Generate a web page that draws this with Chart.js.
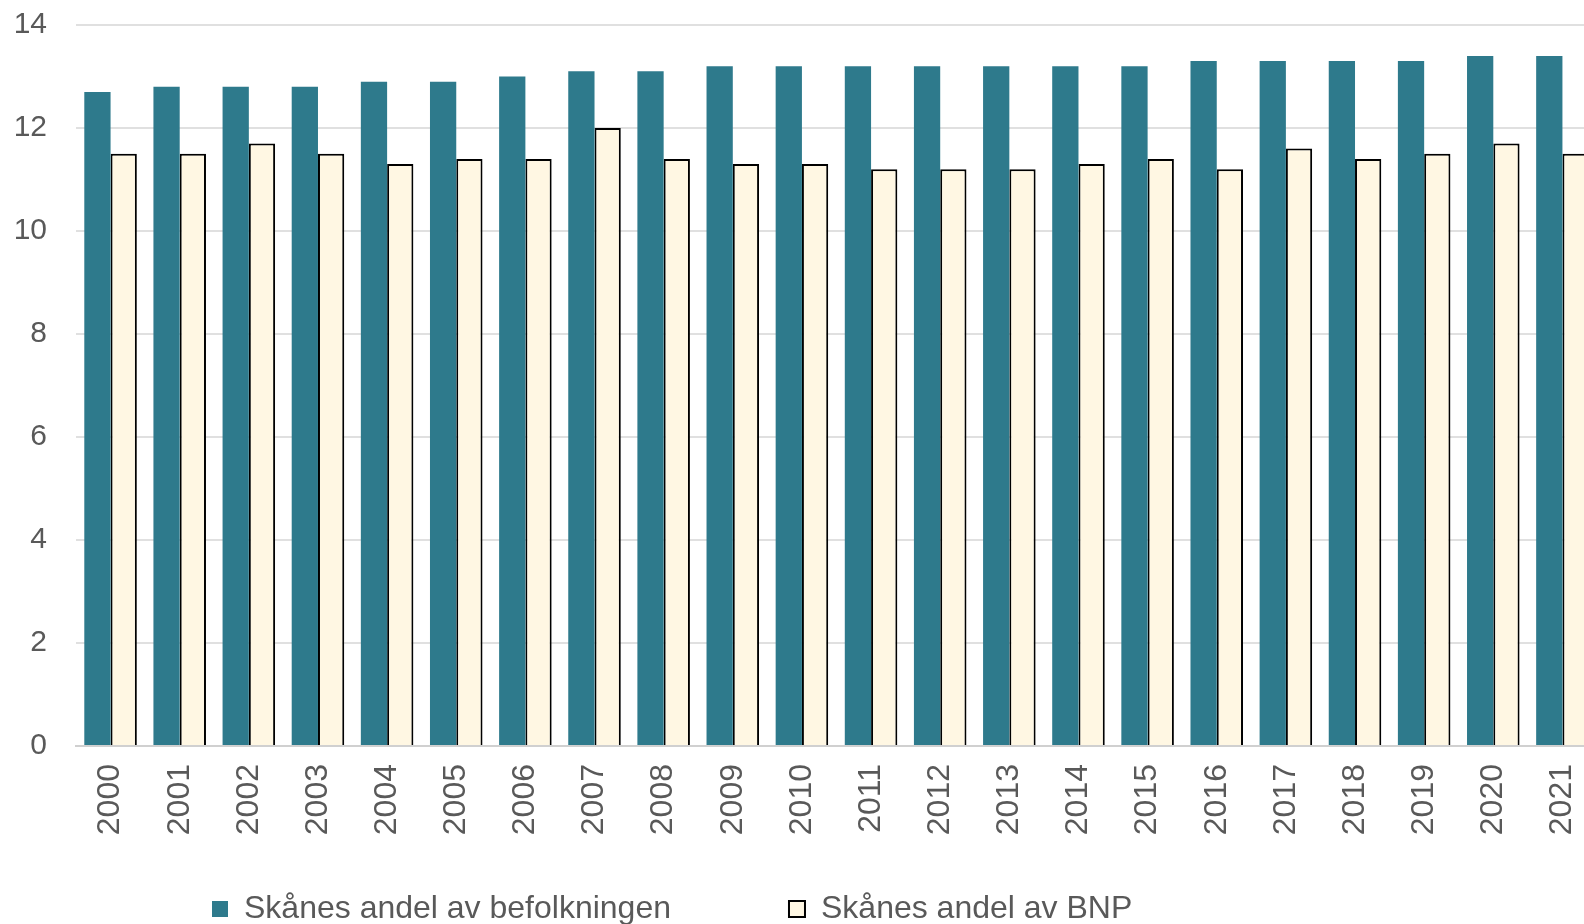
<!DOCTYPE html>
<html>
<head>
<meta charset="utf-8">
<script src="https://cdn.jsdelivr.net/npm/chart.js@4.4.1/dist/chart.umd.min.js"></script>
<style>
  html, body { margin: 0; padding: 0; background: #ffffff; overflow: hidden; }
  #wrap { position: relative; width: 1597px; height: 924px; }
</style>
</head>
<body>
<div id="wrap"><canvas id="c"></canvas></div>
<script>
const years = ['2000','2001','2002','2003','2004','2005','2006','2007','2008','2009','2010',
               '2011','2012','2013','2014','2015','2016','2017','2018','2019','2020','2021'];
const befolkning = [12.7,12.8,12.8,12.8,12.9,12.9,13.0,13.1,13.1,13.2,13.2,
                    13.2,13.2,13.2,13.2,13.2,13.3,13.3,13.3,13.3,13.4,13.4];
const bnp = [11.5,11.5,11.7,11.5,11.3,11.4,11.4,12.0,11.4,11.3,11.3,
             11.2,11.2,11.2,11.3,11.4,11.2,11.6,11.4,11.5,11.7,11.5];
const seriesNames = ['Skånes andel av befolkningen', 'Skånes andel av BNP'];
const yTicks = [0, 2, 4, 6, 8, 10, 12, 14];

const TEAL = '#2E7A8C';
const CREAM = '#FFF7E3';
const TEXT = '#595959';
const FONT = "'Liberation Sans', Arial, sans-serif";
const LEGEND_PAD = 118;

const legendPlace = {
  id: 'legendPlace',
  afterLayout(chart) {
    const lg = chart.legend;
    if (!lg) return;
    const w = lg.right - lg.left;
    lg.left = 212 - LEGEND_PAD;
    lg.right = lg.left + w;
    lg.top = 893 - LEGEND_PAD;
  }
};

new Chart(document.getElementById('c'), {
  type: 'bar',
  data: {
    labels: years,
    datasets: [
      {
        label: seriesNames[0],
        data: befolkning,
        backgroundColor: TEAL,
        borderWidth: 0,
        categoryPercentage: 0.76,
        barPercentage: 1.0
      },
      {
        label: seriesNames[1],
        data: bnp,
        backgroundColor: CREAM,
        borderColor: '#000000',
        borderWidth: 2,
        categoryPercentage: 0.76,
        barPercentage: 1.0
      }
    ]
  },
  options: {
    responsive: true,
    maintainAspectRatio: false,
    animation: false,
    devicePixelRatio: 1,
    layout: { padding: 0 },
    scales: {
      x: {
        grid: { display: false, drawTicks: false },
        border: { display: true, color: '#D0D0D0', width: 2 },
        ticks: {
          color: TEXT,
          font: { family: FONT, size: 32 },
          maxRotation: 90,
          minRotation: 90,
          padding: 18,
          autoSkip: false
        },
        afterFit(scale) {
          scale.height = 98;
          scale.paddingLeft = 0;
          scale.paddingRight = 0;
        }
      },
      y: {
        min: 0,
        max: 14,
        afterBuildTicks(scale) { scale.ticks = yTicks.map(v => ({ value: v })); },
        grid: { color: '#E0E0E0', lineWidth: 2, drawTicks: false },
        border: { display: false },
        ticks: {
          color: TEXT,
          font: { family: FONT, size: 30 },
          padding: 29
        },
        afterFit(scale) {
          scale.width = 76;
          scale.paddingTop = 25;
          scale.paddingBottom = 0;
        }
      }
    },
    plugins: {
      legend: {
        position: 'bottom',
        align: 'start',
        maxHeight: 80,
        labels: {
          color: TEXT,
          font: { family: FONT, size: 32 },
          boxWidth: 16,
          boxHeight: 16,
          padding: LEGEND_PAD
        }
      },
      tooltip: { enabled: false }
    }
  },
  plugins: [legendPlace]
});
</script>
</body>
</html>
